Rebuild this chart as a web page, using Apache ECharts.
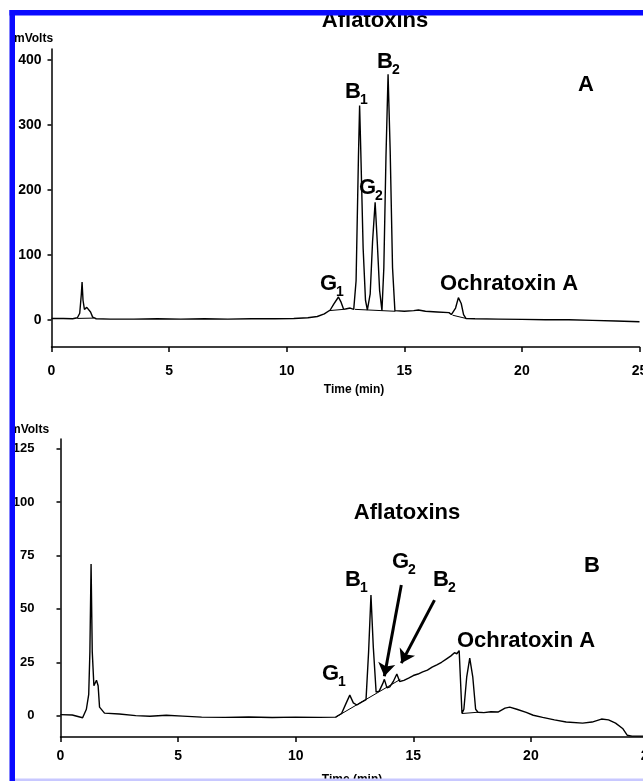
<!DOCTYPE html>
<html>
<head>
<meta charset="utf-8">
<script src="https://cdn.jsdelivr.net/npm/echarts@6/dist/echarts.min.js"></script>
<style>
  html, body { margin: 0; padding: 0; background: #fff; overflow: hidden; }
  #chart { width: 643px; height: 781px; }
</style>
</head>
<body>
<div id="chart"></div>
<script>
// chromatogram A : standard mix (time min, mVolts)
var traceA = [
  [0, 2], [0.5, 2], [0.9, 1.5], [1.1, 3], [1.2, 10], [1.27, 40], [1.3, 58], [1.34, 30], [1.4, 16],
  [1.5, 19], [1.58, 20], [1.66, 12], [1.75, 4], [1.9, 1.5], [2.5, 1], [3.5, 1], [4.5, 1.5], [5.5, 1],
  [6.5, 1.5], [7.5, 1], [8.5, 1.5], [9.5, 1.5], [10.3, 2], [10.9, 3], [11.3, 5], [11.6, 9], [11.85, 15],
  [12.0, 24], [12.2, 35], [12.3, 28], [12.42, 16], [12.55, 17], [12.7, 18], [12.85, 16], [12.95, 60],
  [13.05, 250], [13.1, 330], [13.15, 260], [13.25, 110], [13.35, 30], [13.43, 15], [13.55, 40],
  [13.65, 120], [13.76, 181], [13.85, 120], [13.95, 45], [14.05, 14], [14.13, 80], [14.22, 250],
  [14.31, 378], [14.4, 260], [14.5, 80], [14.6, 14], [15.0, 13], [15.4, 14], [15.6, 15], [15.9, 13],
  [16.4, 12], [16.9, 11], [17.0, 8], [17.08, 5], [17.18, 18], [17.3, 34], [17.42, 25], [17.52, 8],
  [17.62, 2], [18.0, 1.5], [19, 1], [20, 0.5], [21, 0], [22, 0], [23, -1], [24, -2], [25, -3]
];
// integration baselines drawn under the peaks
var baselinesA = [
  [[1.1, 2], [1.8, 2.5]],
  [[11.8, 14], [12.42, 16]],
  [[12.9, 16], [14.62, 13]],
  [[17.05, 7], [17.62, 2]]
];

// chromatogram B : sample
var traceB = [
  [0, 0.5], [0.5, 0.3], [0.94, -1], [1.1, 3], [1.2, 10], [1.25, 30], [1.3, 71], [1.35, 30], [1.42, 14],
  [1.53, 16.6], [1.6, 14], [1.66, 4], [1.87, 1.2], [2.5, 0.8], [3.2, 0], [3.8, -0.3], [4.5, 0.2],
  [5.2, -0.2], [6, -0.7], [7, -0.8], [8, -0.6], [9, -0.9], [10, -0.7], [11, -0.8], [11.7, -0.7],
  [11.95, 1], [12.15, 6], [12.3, 9.6], [12.45, 6], [12.6, 5], [12.8, 6.3], [12.99, 7.5], [13.1, 30],
  [13.2, 56.5], [13.3, 32], [13.42, 11], [13.55, 11.5], [13.7, 15], [13.77, 17], [13.88, 13],
  [14.0, 13.5], [14.15, 16], [14.3, 19.5], [14.42, 16], [14.6, 16.5], [14.8, 17.6], [15.0, 18.8],
  [15.2, 19.5], [15.4, 20.5], [15.6, 21.3], [15.8, 22.7], [16.0, 23.8], [16.2, 25], [16.4, 26.5],
  [16.6, 28], [16.75, 29.5], [16.85, 29], [16.95, 30.5], [17.02, 30], [17.07, 1], [17.15, 3],
  [17.27, 18], [17.4, 27], [17.53, 18], [17.65, 3], [17.75, 1.6], [18.0, 1.4], [18.3, 1.8],
  [18.6, 1.7], [18.9, 3.5], [19.1, 4], [19.4, 3], [19.8, 1.5], [20.1, 0.2], [20.5, -0.8], [21.0, -2],
  [21.5, -3], [22.2, -3.5], [22.6, -3], [23.0, -1.6], [23.3, -2], [23.6, -3.5], [23.9, -6],
  [24.1, -9.2], [24.3, -9.6], [25, -9.6]
];
var baselinesB = [
  [[11.7, -0.7], [14.45, 17]],
  [[17.07, 1], [17.75, 1.6]]
];
// arrows pointing at the small G2 / B2 peaks in B
var arrowsB = [
  [[14.49, 61.2], [13.77, 18.5]],
  [[15.9, 54.1], [14.49, 24.6]]
];

var mvTicksA = [0, 100, 200, 300, 400];
var mvTicksB = [0, 25, 50, 75, 100, 125];

var FONT = '"Liberation Sans", Arial, sans-serif';
var chart = echarts.init(document.getElementById('chart'));
var measure = document.createElement('canvas').getContext('2d');

function txt(x, y, s, size, align) {
  return {
    type: 'text', x: x, y: y, z: 50,
    style: {
      text: s, fill: '#000', font: 'bold ' + size + 'px ' + FONT,
      textAlign: align, textVerticalAlign: 'middle', align: align, verticalAlign: 'middle'
    }
  };
}
function subLabel(x, y, main, sub) {
  measure.font = 'bold 22px ' + FONT;
  var w = measure.measureText(main).width;
  return [txt(x, y, main, 22, 'left'), txt(x + w - 1, y + 8, sub, 14, 'left')];
}

function xAx(i, margin) {
  return {
    gridIndex: i, type: 'value', min: 0, max: 25, interval: 5,
    axisLine: { onZero: false, lineStyle: { color: '#000', width: 1.5 } },
    axisTick: { length: 5, lineStyle: { color: '#000', width: 1.5 } },
    axisLabel: { color: '#000', fontSize: 14, fontWeight: 'bold', fontFamily: FONT, margin: margin },
    splitLine: { show: false }
  };
}
function yAx(i, min, max, ticks, margin, size) {
  return {
    gridIndex: i, type: 'value', min: min, max: max,
    axisLine: { show: true, onZero: false, lineStyle: { color: '#000', width: 1.5 } },
    axisTick: { show: true, length: 4, customValues: ticks, lineStyle: { color: '#000', width: 1.5 } },
    axisLabel: { color: '#000', fontSize: size, fontWeight: 'bold', fontFamily: FONT, margin: margin, customValues: ticks },
    splitLine: { show: false }
  };
}
function traceSeries(i, data, w) {
  return {
    type: 'line', xAxisIndex: i, yAxisIndex: i, data: data, showSymbol: false, symbol: 'none',
    lineStyle: { color: '#000', width: w }, silent: true, z: 3
  };
}

var series = [traceSeries(0, traceA, 1.4), traceSeries(1, traceB, 1.4)];
baselinesA.forEach(function (seg) { series.push(traceSeries(0, seg, 1)); });
baselinesB.forEach(function (seg) { series.push(traceSeries(1, seg, 1)); });
series[1].markLine = {
  silent: true, symbol: ['none', 'arrow'], symbolSize: 13,
  label: { show: false },
  lineStyle: { color: '#000', width: 3, type: 'solid' },
  data: arrowsB.map(function (a) { return [{ coord: a[0] }, { coord: a[1] }]; })
};

var graphics = [
  txt(375, 21, 'Aflatoxins', 22, 'center'),
  txt(586, 85, 'A', 22, 'center'),
  txt(440, 284, 'Ochratoxin A', 22, 'left'),
  txt(14, 39, 'mVolts', 12, 'left'),
  txt(354, 390, 'Time (min)', 12, 'center'),
  txt(407, 513, 'Aflatoxins', 22, 'center'),
  txt(592, 566, 'B', 22, 'center'),
  txt(457, 641, 'Ochratoxin A', 22, 'left'),
  txt(10, 430, 'mVolts', 12, 'left'),
  txt(352, 780, 'Time (min)', 12, 'center')
].concat(
  subLabel(345, 92, 'B', '1'),
  subLabel(377, 62, 'B', '2'),
  subLabel(359, 188, 'G', '2'),
  subLabel(320, 284, 'G', '1'),
  subLabel(345, 580, 'B', '1'),
  subLabel(392, 562, 'G', '2'),
  subLabel(433, 580, 'B', '2'),
  subLabel(322, 674, 'G', '1'),
  [
    { type: 'rect', z: 100, shape: { x: 9.5, y: 10, width: 5.5, height: 771 }, style: { fill: '#0a0aff' } },
    { type: 'rect', z: 100, shape: { x: 9.5, y: 10, width: 634, height: 5.5 }, style: { fill: '#0a0aff' } },
    { type: 'rect', z: 100, shape: { x: 15, y: 778.5, width: 628, height: 2.5 }, style: { fill: '#c8c8ff' } }
  ]
);

chart.setOption({
  animation: false,
  backgroundColor: '#fff',
  grid: [
    { left: 51.5, top: 49, width: 588, height: 298, containLabel: false, outerBoundsMode: 'none' },
    { left: 60.5, top: 439, width: 588, height: 298, containLabel: false, outerBoundsMode: 'none' }
  ],
  xAxis: [xAx(0, 17), xAx(1, 12)],
  yAxis: [yAx(0, -42, 417, mvTicksA, 10, 14), yAx(1, -10, 129.6, mvTicksB, 26, 13)],
  series: series,
  graphic: graphics
});
</script>
</body>
</html>
